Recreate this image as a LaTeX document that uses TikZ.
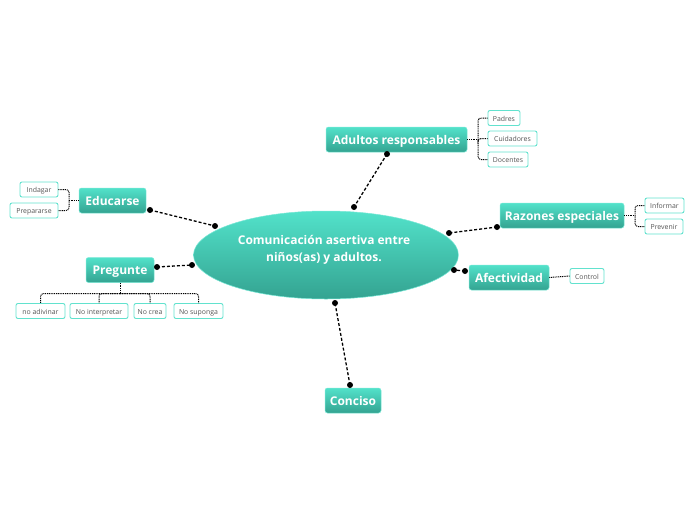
\documentclass[tikz,border=0pt]{standalone}
\usepackage{fontspec}
\setmainfont{Open Sans}
\usetikzlibrary{shapes.geometric}
\definecolor{tealtop}{RGB}{82,226,202}
\definecolor{tealbot}{RGB}{52,163,145}
\definecolor{tealedge}{RGB}{120,232,214}
\definecolor{subedge}{RGB}{98,226,206}
\definecolor{subtext}{RGB}{85,85,85}
\begin{document}
\begin{tikzpicture}[x=1pt,y=-1pt,
  topic/.style={rounded corners=2.5pt, top color=tealtop, bottom color=tealbot, draw=tealedge, line width=0.5pt,
    text=white, font=\bfseries\fontsize{12}{14}\selectfont, minimum height=25pt, inner sep=0pt,
    text height=9.6pt, text depth=0.4pt},
  subt/.style={draw=subedge, fill=white, rounded corners=2pt, line width=0.9pt, text=subtext,
    font=\fontsize{6.9}{8}\selectfont, minimum height=15pt, inner sep=0pt, text height=6pt, text depth=0pt},
  conn/.style={dash pattern=on 3pt off 2pt, line width=1.3pt},
  subconn/.style={dash pattern=on 1pt off 0.8pt, line width=1pt, rounded corners=3pt},
  enddot/.style={fill=black}
]
\useasboundingbox (0,0) rectangle (696,520);

% central topic
\node[ellipse, minimum width=265pt, minimum height=88pt, inner sep=0pt, top color=tealtop, bottom color=tealbot, draw=tealedge, line width=0.5pt] (ctr) at (326,255) {};
\node[text=white, font=\bfseries\fontsize{12}{17}\selectfont, align=center] (ctrtxt) at (324,250) {Comunicación asertiva entre\\niños(as) y adultos.};

% main topics
\node[topic, minimum width=141pt] (adr) at (396.5,139.5) {Adultos responsables};
\node[topic, minimum width=124pt] (raz) at (562,215.5) {Razones especiales};
\node[topic, minimum width=80pt] (afe) at (509,277.5) {Afectividad};
\node[topic, minimum width=56pt] (con) at (353,400.5) {Conciso};
\node[topic, minimum width=68pt] (pre) at (120,270) {Pregunte};
\node[topic, minimum width=67pt] (edu) at (112.5,200.5) {Educarse};

% subtopics
\node[subt, minimum width=32pt] (padres) at (504,118) {Padres};
\node[subt, minimum width=49pt] (cuid) at (512.5,138.5) {Cuidadores};
\node[subt, minimum width=40pt] (doc) at (508,159.5) {Docentes};
\node[subt, minimum width=39pt] (inf) at (664.5,205.5) {Informar};
\node[subt, minimum width=38pt] (prev) at (664,226.5) {Prevenir};
\node[subt, minimum width=34pt] (ctrl) at (587,276) {Control};
\node[subt, minimum width=38pt] (ind) at (39,189.5) {Indagar};
\node[subt, minimum width=48pt] (prep) at (34,210.5) {Prepararse};
\node[subt, minimum width=49pt] (nadv) at (40.5,311) {no adivinar};
\node[subt, minimum width=58pt] (nint) at (99,311) {No interpretar};
\node[subt, minimum width=32pt] (ncre) at (150,311) {No crea};
\node[subt, minimum width=49pt] (nsup) at (198.5,311) {No suponga};

% main connectors (end points)
\coordinate (adrA) at (387,154);  \coordinate (adrB) at (354,207);
\coordinate (razA) at (497,227);  \coordinate (razB) at (449,233);
\coordinate (afeA) at (465,271);  \coordinate (afeB) at (454,270);
\coordinate (conA) at (350,385);  \coordinate (conB) at (335,303);
\coordinate (preA) at (157,267);  \coordinate (preB) at (192,265);
\coordinate (eduA) at (150,210);  \coordinate (eduB) at (215,226);
\foreach \a/\b in {adrA/adrB, razA/razB, afeA/afeB, conA/conB, preA/preB, eduA/eduB}{
  \draw[conn] (\a) -- (\b);
  \fill[enddot] (\a) circle (3pt);
  \fill[enddot] (\b) circle (3pt);
}

% subtopic connectors
\coordinate (adrJ) at (478,139.5);
\draw[subconn] (adr.east) -- (adrJ);
\foreach \c in {padres, cuid, doc}{ \draw[subconn] (adrJ) |- (\c.west); }

\coordinate (razJ) at (635,215.5);
\draw[subconn] (raz.east) -- (razJ);
\foreach \c in {inf, prev}{ \draw[subconn] (razJ) |- (\c.west); }

\draw[subconn] (afe.east) -- (ctrl.west);

\coordinate (eduJ) at (69,200.5);
\draw[subconn] (edu.west) -- (eduJ);
\foreach \c in {ind, prep}{ \draw[subconn] (eduJ) |- (\c.east); }

\coordinate (preJ) at (120,293.5);
\draw[subconn] (pre.south) -- (preJ);
\foreach \c in {nadv, nint, ncre, nsup}{ \draw[subconn] (preJ) -| (\c.north); }

\end{tikzpicture}
\end{document}
